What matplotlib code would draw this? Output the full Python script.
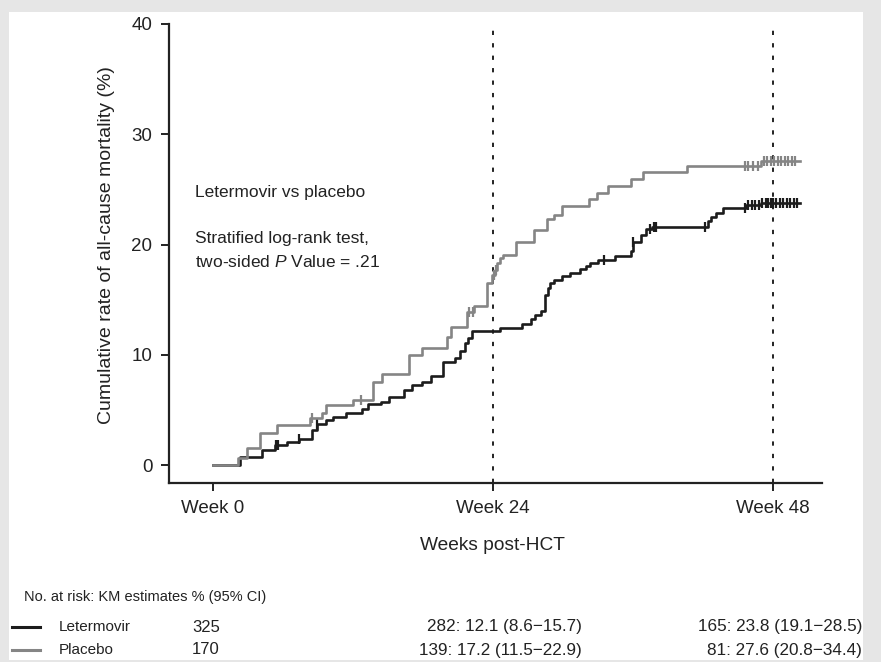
import numpy as np
import matplotlib
matplotlib.use('Agg')
import matplotlib.pyplot as plt
from matplotlib.patches import Rectangle
from matplotlib.lines import Line2D

plt.rcParams['font.family'] = ['Liberation Sans', 'DejaVu Sans']
plt.rcParams['mathtext.fontset'] = 'custom'
plt.rcParams['mathtext.it'] = 'Liberation Sans:italic'
plt.rcParams['mathtext.rm'] = 'Liberation Sans'

# KM step curves (weeks, cumulative %)
let_weeks = [0, 2.3, 4.2, 5.3, 6.4, 7.4, 8.5, 8.9, 9.7, 10.3, 11.4, 12.8, 13.3, 14.4,
             15.1, 16.4, 17.1, 17.9, 18.7, 19.7, 20.8, 21.2, 21.6, 21.9, 22.2, 24.6,
             26.5, 27.3, 27.6, 28.1, 28.5, 28.7, 28.9, 29.2, 29.9, 30.6, 31.5, 32.0,
             32.3, 33.0, 34.5, 35.8, 36.0, 36.7, 37.1, 37.6, 42.4, 42.7, 43.1, 43.7,
             45.7, 47.0, 50.3]
let_rate = [0, 0.7, 1.4, 1.8, 2.1, 2.4, 3.2, 3.7, 4.1, 4.4, 4.7, 5.1, 5.5, 5.7,
            6.2, 6.8, 7.3, 7.5, 8.1, 9.3, 9.7, 10.3, 11.1, 11.5, 12.2, 12.45,
            12.8, 13.2, 13.6, 14.0, 15.4, 16.1, 16.5, 16.8, 17.1, 17.4, 17.75, 18.05,
            18.3, 18.6, 19.0, 19.4, 20.2, 20.9, 21.4, 21.6, 22.1, 22.5, 22.9, 23.3,
            23.6, 23.8, 23.8]

pla_weeks = [0, 2.2, 2.9, 4.05, 5.5, 8.3, 9.4, 9.7, 12.0, 13.7, 14.5, 16.8, 17.9,
             20.1, 20.4, 21.8, 22.4, 23.5, 23.9, 24.2, 24.4, 24.6, 24.9, 26.0, 27.5,
             28.6, 29.2, 29.9, 32.2, 32.9, 33.9, 35.8, 36.9, 40.6, 47.0, 50.3]
pla_rate = [0, 0.6, 1.5, 2.9, 3.6, 4.3, 4.7, 5.4, 5.9, 7.5, 8.3, 10.0, 10.6,
            11.6, 12.5, 13.9, 14.4, 16.5, 17.2, 17.7, 18.3, 18.8, 19.05, 20.25, 21.3,
            22.3, 22.7, 23.5, 24.1, 24.7, 25.3, 25.9, 26.6, 27.1, 27.6, 27.6]

# censoring marks (weeks)
let_cens = [5.4, 5.6, 7.4, 8.9, 33.5, 36.0, 37.5, 37.8, 38.0, 42.2, 45.6, 45.9,
            46.2, 46.5, 46.8, 47.1, 47.4, 47.6, 47.8, 48.0, 48.3, 48.6, 48.9, 49.2,
            49.5, 49.8, 50.1]
pla_cens = [8.5, 12.7, 22.0, 22.3, 24.1, 24.3, 45.6, 45.9, 46.3, 46.7, 47.2, 47.5,
            47.8, 48.1, 48.4, 48.7, 49.0, 49.3, 49.6, 49.9]

groups = ['Letermovir', 'Placebo']
n_start = ['325', '170']
at_wk24 = ['282: 12.1 (8.6\u221215.7)', '139: 17.2 (11.5\u221222.9)']
at_wk48 = ['165: 23.8 (19.1\u221228.5)', '81: 27.6 (20.8\u221234.4)']
colors = ['#1c1c1c', '#858585']

x_ticks = [0, 24, 48]
x_labels = ['Week 0', 'Week 24', 'Week 48']
y_ticks = [0, 10, 20, 30, 40]

W, H = 881, 662
fig = plt.figure(figsize=(W / 100, H / 100), dpi=100, facecolor='#e6e6e6')
fig.patches.append(Rectangle((9 / W, 2 / H), 854 / W, 648 / H, transform=fig.transFigure,
                             facecolor='white', edgecolor='none', zorder=-10))

def fx(px):
    return px / W

def fy(py):
    return 1 - py / H

ax = fig.add_axes([fx(169), fy(483), fx(822) - fx(169), fy(24) - fy(483)])
ax.set_facecolor('none')


def step_at(t, xs, ys):
    i = np.searchsorted(np.asarray(xs), t, side='right') - 1
    return np.asarray(ys)[i]


for xs, ys, cens, c in [(let_weeks, let_rate, let_cens, colors[0]),
                        (pla_weeks, pla_rate, pla_cens, colors[1])]:
    ax.step(xs, ys, where='post', color=c, lw=1.9, zorder=3)
    ax.plot(cens, step_at(cens, xs, ys), ls='none', marker='|', ms=7, mew=1.6,
            color=c, zorder=3)

for wk in [24, 48]:
    ax.axvline(wk, color='#222222', lw=1.4, ls=(0, (2.2, 4.2)), zorder=2)

ax.set_xlim(-3.74, 52.2)
ax.set_ylim(-1.63, 40)
ax.set_xticks(x_ticks)
ax.set_xticklabels(x_labels)
ax.set_yticks(y_ticks)
for s in ['top', 'right']:
    ax.spines[s].set_visible(False)
for s in ['left', 'bottom']:
    ax.spines[s].set_linewidth(1.6)
    ax.spines[s].set_color('#222222')
ax.tick_params(length=6, width=1.4, pad=6, labelsize=13.5, colors='#222222')

fig.text(fx(493), fy(545), 'Weeks post-HCT', ha='center', va='center', fontsize=13.8,
         color='#222222')
fig.text(fx(107), fy(245), 'Cumulative rate of all-cause mortality (%)', rotation=90,
         ha='center', va='center', fontsize=14, color='#222222')

fig.text(fx(195), fy(192), 'Letermovir vs placebo', ha='left', va='center',
         fontsize=12.5, color='#222222')
fig.text(fx(195), fy(238), 'Stratified log-rank test,', ha='left', va='center',
         fontsize=12.5, color='#222222')
fig.text(fx(195), fy(262), 'two-sided $\\mathit{P}$ Value = .21', ha='left', va='center',
         fontsize=12.5, color='#222222')

# number at risk table
fig.text(fx(24), fy(597), 'No. at risk: KM estimates % (95% CI)', ha='left', va='center',
         fontsize=10.5, color='#222222')
for i, g in enumerate(groups):
    y = fy(627 + 23 * i)
    fig.lines.append(Line2D([fx(12), fx(40)], [y, y], transform=fig.transFigure,
                            color=colors[i], lw=2.2))
    fig.text(fx(59), y, g, ha='left', va='center', fontsize=11, color='#222222')
    fig.text(fx(192), y, n_start[i], ha='left', va='center', fontsize=12, color='#222222')
    fig.text(fx(582), y, at_wk24[i], ha='right', va='center', fontsize=12.3, color='#222222')
    fig.text(fx(862), y, at_wk48[i], ha='right', va='center', fontsize=12.3, color='#222222')

fig.savefig('out.png', dpi=100, facecolor=fig.get_facecolor())
